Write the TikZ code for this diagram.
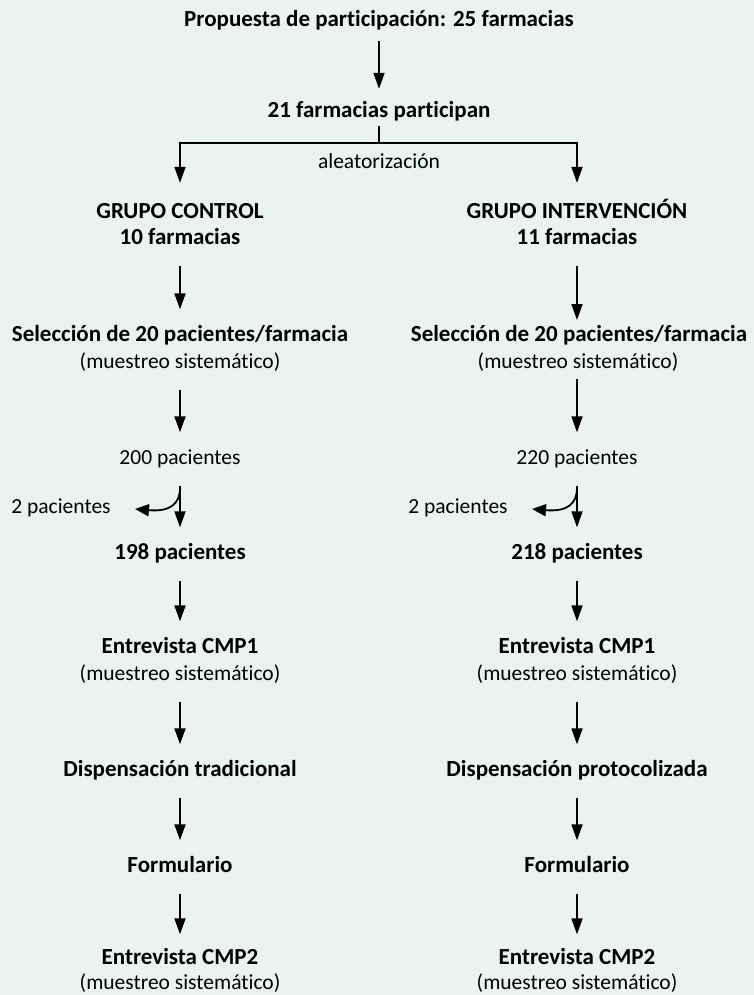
\documentclass[tikz,border=0pt]{standalone}
\usepackage{fontspec}
\setmainfont{Carlito}[Ligatures=NoCommon]
\usetikzlibrary{arrows.meta}
\definecolor{bgc}{HTML}{E9F3F1}
\tikzset{
  hv/.style={font=\fontsize{23}{28}\selectfont\bfseries, inner sep=0pt, text height=16pt, text depth=5pt},
  lt/.style={font=\fontsize{21.5}{26}\selectfont, inner sep=0pt, text height=16pt, text depth=5pt},
  arr/.style={-{Triangle[width=11pt,length=16pt]}, line width=1.8pt, shorten <=16pt, shorten >=16pt},
  ln/.style={line width=1.8pt}
}
\begin{document}
\begin{tikzpicture}[x=1pt,y=-1pt]
\fill[bgc] (0,0) rectangle (754,995);
\useasboundingbox (0,0) rectangle (754,995);
% top
\node[hv] (t1) at (379,21) {Propuesta de participación: 25 farmacias};
\node[hv] (t2) at (379,112) {21 farmacias participan};
\node[lt] (al) at (379,163) {aleatorización};
\coordinate (split) at (379,143);
% left column
\node[hv] (gc) at (180,213) {GRUPO CONTROL};
\node[hv] (gc2) at (180,239) {10 farmacias};
\node[hv] (sl) at (180,336) {Selección de 20 pacientes/farmacia};
\node[lt] (sl2) at (180,363) {(muestreo sistemático)};
\node[lt] (pl) at (180,459) {200 pacientes};
\node[lt] (dl) at (61,508) {2 pacientes};
\node[hv] (ql) at (180,554) {198 pacientes};
\node[hv] (el) at (180,648) {Entrevista CMP1};
\node[lt] (el2) at (180,675) {(muestreo sistemático)};
\node[hv] (dpl) at (180,771) {Dispensación tradicional};
\node[hv] (fl) at (180,867) {Formulario};
\node[hv] (cl) at (180,959) {Entrevista CMP2};
\node[lt] (cl2) at (180,984) {(muestreo sistemático)};
% right column
\node[hv] (gi) at (577,213) {GRUPO INTERVENCIÓN};
\node[hv] (gi2) at (577,239) {11 farmacias};
\node[hv] (sr) at (579,336) {Selección de 20 pacientes/farmacia};
\node[lt] (sr2) at (578,363) {(muestreo sistemático)};
\node[lt] (pr) at (577,459) {220 pacientes};
\node[lt] (dr) at (458,508) {2 pacientes};
\node[hv] (qr) at (577,554) {218 pacientes};
\node[hv] (er) at (577,648) {Entrevista CMP1};
\node[lt] (er2) at (577,675) {(muestreo sistemático)};
\node[hv] (dpr) at (577,771) {Dispensación protocolizada};
\node[hv] (fr) at (577,867) {Formulario};
\node[hv] (cr) at (577,959) {Entrevista CMP2};
\node[lt] (cr2) at (577,984) {(muestreo sistemático)};
\coordinate (bl) at (180,488);
\coordinate (br) at (577,488);
\coordinate (tl) at (135,509);
\coordinate (tr) at (532,509);
% connectors
\draw[arr, shorten <=9.5pt, shorten >=12.5pt] (t1) -- (t2);
\draw[ln, shorten <=3pt] (t2) -- (split);
\draw[arr, shorten <=0pt, shorten >=19.5pt] (split) -| (gc);
\draw[arr, shorten <=0pt, shorten >=19.5pt] (split) -| (gi);
\foreach \a/\b in {gc2/sl, sl2/pl, pl/ql, ql/el, el2/dpl, dpl/fl,
                   pr/qr, qr/er, er2/dpr, dpr/fr}
  \draw[arr] (\a) -- (\b);
\draw[arr, shorten >=14pt] (fl) -- (cl);
\draw[arr, shorten >=14pt] (fr) -- (cr);
\draw[arr] (gi2) -- (gi2 |- sr);
\draw[arr] (pr |- sr2) -- (pr);
\draw[ln, -{Triangle[width=12pt,length=14pt]}] (bl) .. controls (180,504) and (170,512) .. (tl);
\draw[ln, -{Triangle[width=12pt,length=14pt]}] (br) .. controls (577,504) and (567,512) .. (tr);
\end{tikzpicture}
\end{document}
